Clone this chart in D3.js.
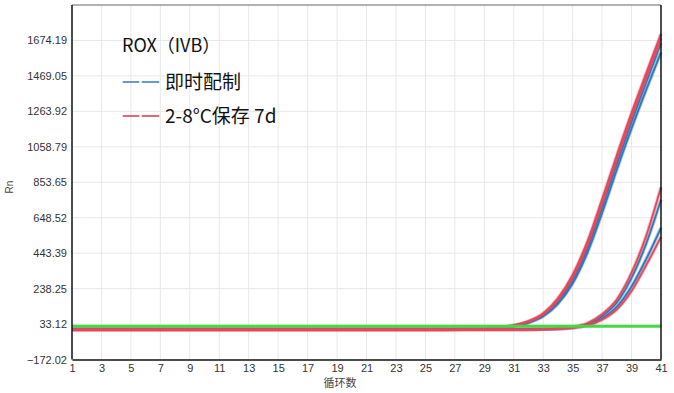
<!DOCTYPE html>
<html>
<head>
<meta charset="utf-8">
<script src="https://cdn.jsdelivr.net/npm/d3@7"></script>
<style>
  body { margin: 0; background: #fff; }
  svg { display: block; }
</style>
</head>
<body>
<div id="chart"></div>
<script>
// cycles 1..41
var cycles = d3.range(1, 42);

// y axis tick values (Rn)
var yTicks = [-172.02, 33.12, 238.25, 443.39, 648.52, 853.65, 1058.79, 1263.92, 1469.05, 1674.19];
var yTop = 1879.32;
var xTicks = [1, 3, 5, 7, 9, 11, 13, 15, 17, 19, 21, 23, 25, 27, 29, 31, 33, 35, 37, 39, 41];
var threshold = 21;

// 即时配制 (blue) - early and late amplification
var blueEarly1 = [3, 3, 3, 3, 3, 3, 3, 3, 3, 3, 3, 3, 3, 3, 3, 3, 3, 3, 3, 3, 3, 3, 3, 3, 3, 3, 3, 4, 5, 11, 22, 44, 84, 162, 285, 468, 705, 960, 1203, 1433, 1658];
var blueEarly2 = [3, 3, 3, 3, 3, 3, 3, 3, 3, 3, 3, 3, 3, 3, 3, 3, 3, 3, 3, 3, 3, 3, 3, 3, 3, 3, 3, 3, 4, 10, 20, 40, 78, 150, 268, 445, 676, 926, 1165, 1390, 1605];
var blueLate1 = [3, 3, 3, 3, 3, 3, 3, 3, 3, 3, 3, 3, 3, 3, 3, 3, 3, 3, 3, 3, 3, 3, 3, 3, 3, 3, 3, 3, 3, 3, 3, 3, 4, 7, 14, 33, 80, 158, 300, 500, 752];
var blueLate2 = [3, 3, 3, 3, 3, 3, 3, 3, 3, 3, 3, 3, 3, 3, 3, 3, 3, 3, 3, 3, 3, 3, 3, 3, 3, 3, 3, 3, 3, 3, 3, 3, 3, 6, 12, 28, 66, 132, 250, 410, 590];

// 2-8°C保存 7d (red)
var redEarly1 = [1, 1, 1, 1, 1, 1, 1, 1, 1, 1, 1, 1, 1, 1, 1, 1, 1, 1, 1, 1, 1, 1, 1, 1, 1, 1, 2, 4, 6, 13, 26, 50, 95, 182, 318, 510, 755, 1010, 1255, 1485, 1712];
var redEarly2 = [1, 1, 1, 1, 1, 1, 1, 1, 1, 1, 1, 1, 1, 1, 1, 1, 1, 1, 1, 1, 1, 1, 1, 1, 1, 1, 2, 3, 5, 12, 24, 47, 90, 173, 303, 492, 733, 988, 1232, 1462, 1688];
var redLate1 = [1, 1, 1, 1, 1, 1, 1, 1, 1, 1, 1, 1, 1, 1, 1, 1, 1, 1, 1, 1, 1, 1, 1, 1, 1, 1, 1, 1, 0, 0, 0, 1, 4, 8, 16, 38, 90, 175, 330, 545, 825];
var redLate2 = [1, 1, 1, 1, 1, 1, 1, 1, 1, 1, 1, 1, 1, 1, 1, 1, 1, 1, 1, 1, 1, 1, 1, 1, 1, 1, 1, 1, 0, 0, 0, 1, 3, 5, 11, 25, 58, 118, 225, 375, 538];

var blueSeries = [blueEarly1, blueEarly2, blueLate1, blueLate2];
var redSeries = [redEarly1, redEarly2, redLate1, redLate2];

var width = 674, height = 393;
var margin = { top: 5, right: 13, bottom: 33.5, left: 72 };

var blue = "#2f78ba";
var red = "#e4485b";

var x = d3.scaleLinear()
    .domain([1, 41])
    .range([margin.left, width - margin.right]);

var y = d3.scaleLinear()
    .domain([yTicks[0], yTop])
    .range([height - margin.bottom, margin.top]);

var svg = d3.select("#chart")
    .append("svg")
    .attr("width", width)
    .attr("height", height);

// grid
svg.append("g")
    .selectAll("line")
    .data(yTicks.slice(1))
    .enter()
    .append("line")
    .attr("x1", x(1))
    .attr("x2", x(41))
    .attr("y1", d => y(d))
    .attr("y2", d => y(d))
    .attr("stroke", "#e8e8e8")
    .attr("stroke-width", 1);

svg.append("g")
    .selectAll("line")
    .data(xTicks.slice(1, -1))
    .enter()
    .append("line")
    .attr("x1", d => x(d))
    .attr("x2", d => x(d))
    .attr("y1", y(yTop))
    .attr("y2", y(yTicks[0]))
    .attr("stroke", "#e8e8e8")
    .attr("stroke-width", 1);

// curves
var line = d3.line()
    .x((d, i) => x(cycles[i]))
    .y(d => y(d))
    .curve(d3.curveMonotoneX);

function drawCurves(list, color) {
    list.forEach(function (s) {
        svg.append("path")
            .datum(s)
            .attr("fill", "none")
            .attr("stroke", color)
            .attr("stroke-opacity", 0.35)
            .attr("stroke-width", 3.6)
            .attr("d", line);
        svg.append("path")
            .datum(s)
            .attr("fill", "none")
            .attr("stroke", color)
            .attr("stroke-width", 1.8)
            .attr("d", line);
    });
}
drawCurves(blueSeries, blue);
drawCurves(redSeries, red);

// threshold
svg.append("line")
    .attr("x1", x(1))
    .attr("x2", x(41))
    .attr("y1", y(threshold))
    .attr("y2", y(threshold))
    .attr("stroke", "#44d844")
    .attr("stroke-width", 3);

// frame
svg.append("line")
    .attr("x1", x(1)).attr("x2", x(41))
    .attr("y1", y(yTop)).attr("y2", y(yTop))
    .attr("stroke", "#666").attr("stroke-width", 1.2);
svg.append("line")
    .attr("x1", x(41)).attr("x2", x(41))
    .attr("y1", y(yTop)).attr("y2", y(yTicks[0]))
    .attr("stroke", "#111").attr("stroke-width", 1.5);

// axes
var yAxis = svg.append("g")
    .attr("transform", `translate(${margin.left}, 0)`)
    .call(d3.axisLeft(y).tickValues(yTicks).tickSize(0).tickPadding(5).tickFormat(d3.format(".2f")));
yAxis.select(".domain").attr("stroke", "#111").attr("stroke-width", 1.5)
    .attr("d", `M0,${y(yTop)}V${y(yTicks[0])}`);
yAxis.selectAll("text")
    .style("font-family", "'Liberation Sans', Arial, sans-serif")
    .style("font-size", "11px")
    .attr("fill", "#333");

var xAxis = svg.append("g")
    .attr("transform", `translate(0, ${height - margin.bottom})`)
    .call(d3.axisBottom(x).tickValues(xTicks).tickSize(0).tickPadding(5).tickFormat(d3.format("d")));
xAxis.select(".domain").attr("stroke", "#111").attr("stroke-width", 1.5);
xAxis.selectAll("text")
    .style("font-family", "'Liberation Sans', Arial, sans-serif")
    .style("font-size", "11px")
    .attr("fill", "#333");

// axis titles
svg.append("text")
    .attr("x", 340)
    .attr("y", 387)
    .attr("text-anchor", "middle")
    .style("font-family", "'Noto Sans CJK SC', sans-serif")
    .style("font-size", "11px")
    .attr("fill", "#444")
    .text("循环数");

svg.append("text")
    .attr("transform", "translate(13, 187) rotate(-90)")
    .attr("text-anchor", "middle")
    .style("font-family", "'Liberation Sans', Arial, sans-serif")
    .style("font-size", "10px")
    .attr("fill", "#444")
    .text("Rn");

// legend
var legendFont = "'Noto Sans CJK SC', sans-serif";
svg.append("text")
    .attr("x", 122)
    .attr("y", 52)
    .style("font-family", legendFont)
    .style("font-size", "18px")
    .attr("fill", "#111")
    .text("ROX（IVB）");

var legendItems = [
    { label: "即时配制", color: "#3a78b4", y: 82 },
    { label: "2-8°C保存 7d", color: "#d63a48", y: 116 }
];
legendItems.forEach(function (it) {
    [[122.7, 139.3], [141.7, 159.3]].forEach(function (seg) {
        svg.append("line")
            .attr("x1", seg[0]).attr("x2", seg[1])
            .attr("y1", it.y).attr("y2", it.y)
            .attr("stroke", it.color)
            .attr("stroke-width", 1.5);
    });
    svg.append("text")
        .attr("x", 165)
        .attr("y", it.y)
        .attr("dy", "0.36em")
        .style("font-family", legendFont)
        .style("font-size", "19px")
        .attr("fill", "#111")
        .text(it.label);
});
</script>
</body>
</html>
